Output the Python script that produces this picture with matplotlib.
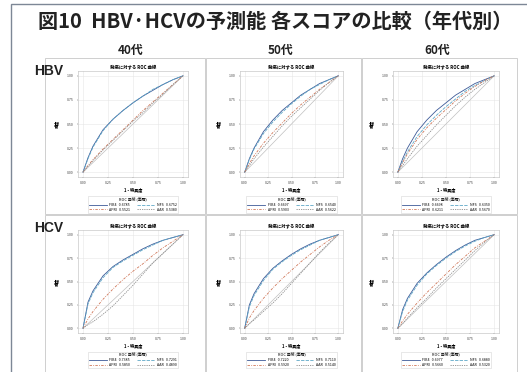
import numpy as np
import matplotlib.pyplot as plt
from matplotlib.patches import Rectangle
from matplotlib.lines import Line2D

plt.rcParams['font.family'] = ['Noto Sans CJK JP', 'DejaVu Sans']

W, H = 527, 372

# data
ages = ['40代', '50代', '60代']
viruses = ['HBV', 'HCV']
scores = ['FIB4', 'NFS', 'APRI', 'AAR']
fpr = [0, 0.05, 0.1, 0.2, 0.3, 0.4, 0.5, 0.6, 0.7, 0.8, 0.9, 1.0]

hbv40_fib4 = [0, 0.15, 0.27, 0.44, 0.55, 0.64, 0.72, 0.79, 0.85, 0.91, 0.96, 1]
hbv40_nfs = [0, 0.14, 0.26, 0.43, 0.55, 0.64, 0.72, 0.79, 0.86, 0.91, 0.96, 1]
hbv40_apri = [0, 0.07, 0.13, 0.24, 0.34, 0.44, 0.54, 0.64, 0.73, 0.82, 0.91, 1]
hbv40_aar = [0, 0.06, 0.12, 0.23, 0.33, 0.43, 0.53, 0.62, 0.72, 0.81, 0.91, 1]

hbv50_fib4 = [0, 0.14, 0.25, 0.42, 0.54, 0.64, 0.72, 0.80, 0.86, 0.92, 0.96, 1]
hbv50_nfs = [0, 0.13, 0.24, 0.40, 0.52, 0.62, 0.71, 0.79, 0.86, 0.91, 0.96, 1]
hbv50_apri = [0, 0.09, 0.17, 0.30, 0.41, 0.51, 0.61, 0.70, 0.78, 0.86, 0.93, 1]
hbv50_aar = [0, 0.07, 0.14, 0.26, 0.37, 0.48, 0.58, 0.67, 0.76, 0.85, 0.93, 1]

hbv60_fib4 = [0, 0.14, 0.25, 0.42, 0.54, 0.64, 0.72, 0.80, 0.86, 0.92, 0.96, 1]
hbv60_nfs = [0, 0.11, 0.21, 0.37, 0.49, 0.59, 0.68, 0.76, 0.84, 0.90, 0.95, 1]
hbv60_apri = [0, 0.10, 0.19, 0.34, 0.46, 0.56, 0.65, 0.74, 0.82, 0.89, 0.95, 1]
hbv60_aar = [0, 0.07, 0.14, 0.27, 0.38, 0.49, 0.59, 0.69, 0.78, 0.86, 0.93, 1]

hcv40_fib4 = [0, 0.28, 0.40, 0.56, 0.66, 0.73, 0.79, 0.85, 0.90, 0.94, 0.97, 1]
hcv40_nfs = [0, 0.26, 0.38, 0.54, 0.65, 0.72, 0.78, 0.84, 0.89, 0.94, 0.97, 1]
hcv40_apri = [0, 0.10, 0.18, 0.31, 0.42, 0.52, 0.61, 0.69, 0.78, 0.86, 0.93, 1]
hcv40_aar = [0, 0.04, 0.07, 0.15, 0.24, 0.35, 0.46, 0.58, 0.70, 0.80, 0.90, 1]

hcv50_fib4 = [0, 0.25, 0.37, 0.53, 0.64, 0.72, 0.79, 0.85, 0.90, 0.94, 0.97, 1]
hcv50_nfs = [0, 0.23, 0.35, 0.51, 0.63, 0.71, 0.78, 0.84, 0.89, 0.94, 0.97, 1]
hcv50_apri = [0, 0.11, 0.19, 0.32, 0.43, 0.53, 0.62, 0.71, 0.79, 0.87, 0.94, 1]
hcv50_aar = [0, 0.05, 0.09, 0.18, 0.27, 0.37, 0.48, 0.59, 0.70, 0.81, 0.91, 1]

hcv60_fib4 = [0, 0.20, 0.32, 0.48, 0.59, 0.68, 0.76, 0.83, 0.89, 0.94, 0.97, 1]
hcv60_nfs = [0, 0.18, 0.30, 0.46, 0.58, 0.67, 0.75, 0.82, 0.88, 0.93, 0.97, 1]
hcv60_apri = [0, 0.08, 0.15, 0.27, 0.38, 0.48, 0.58, 0.68, 0.77, 0.86, 0.93, 1]
hcv60_aar = [0, 0.05, 0.11, 0.22, 0.32, 0.43, 0.53, 0.63, 0.73, 0.83, 0.92, 1]

hbv_auc = [['0.6785', '0.6752', '0.5521', '0.5380'],
           ['0.6697', '0.6540', '0.5903', '0.5622'],
           ['0.6698', '0.6350', '0.6211', '0.5670']]
hcv_auc = [['0.7385', '0.7291', '0.5850', '0.4890'],
           ['0.7220', '0.7110', '0.5920', '0.5140'],
           ['0.6977', '0.6880', '0.5660', '0.5320']]

curves = {
    ('HBV', 0): [hbv40_fib4, hbv40_nfs, hbv40_apri, hbv40_aar],
    ('HBV', 1): [hbv50_fib4, hbv50_nfs, hbv50_apri, hbv50_aar],
    ('HBV', 2): [hbv60_fib4, hbv60_nfs, hbv60_apri, hbv60_aar],
    ('HCV', 0): [hcv40_fib4, hcv40_nfs, hcv40_apri, hcv40_aar],
    ('HCV', 1): [hcv50_fib4, hcv50_nfs, hcv50_apri, hcv50_aar],
    ('HCV', 2): [hcv60_fib4, hcv60_nfs, hcv60_apri, hcv60_aar],
}

colors = ['#3d5a98', '#5fa8c8', '#d0785a', '#8c8c8c']
styles = ['-', (0, (4, 1.5)), (0, (3, 1.5, 1, 1.5)), (0, (1.5, 1.2))]

fig = plt.figure(figsize=(W / 100, H / 100), dpi=100)


def box(x0, y0, x1, y1):
    # pixel box (top-left origin) -> figure fraction
    return [x0 / W, 1 - y1 / H, (x1 - x0) / W, (y1 - y0) / H]


# outer frame
fig.patches.append(Rectangle((11 / W, -0.1), 1.2, 1 - 4 / H + 0.1, transform=fig.transFigure,
                             fill=False, edgecolor='#7d8796', lw=1.0))

fig.text(275 / W, 1 - 21 / H, '図10  HBV·HCVの予測能 各スコアの比較（年代別）',
         ha='center', va='center', fontsize=14.5, fontweight='bold', color='#222222')

col_px = [(45, 205, 78, 188), (206, 361, 240, 343), (362, 517, 393, 499)]
row_px = [(58, 214, 71, 177), (215, 380, 230, 333)]
head_x = [131, 281, 437]

for j, a in enumerate(ages):
    fig.text(head_x[j] / W, 1 - 50 / H, a, ha='center', va='center',
             fontsize=8.5, fontweight='bold', color='#222222')

for i, v in enumerate(viruses):
    py0, py1, ay0, ay1 = row_px[i]
    fig.text(49 / W, 1 - (py0 + 13) / H, v, ha='center', va='center', fontsize=10,
             fontweight='bold', color='#222222', family=['Liberation Sans', 'DejaVu Sans'])
    for j in range(3):
        px0, px1, ax0, ax1 = col_px[j]
        fig.patches.append(Rectangle((px0 / W, 1 - py1 / H), (px1 - px0) / W, (py1 - py0) / H,
                                     transform=fig.transFigure, fill=False,
                                     edgecolor='#c8c8c8', lw=0.6))
        ax = fig.add_axes(box(ax0, ay0, ax1, ay1))
        ax.plot([0, 1], [0, 1], color='#c0c0c0', lw=0.5)
        for k, s in enumerate(scores):
            ax.plot(fpr, curves[(v, j)][k], color=colors[k], ls=styles[k], lw=0.6)
        ax.set_xlim(-0.05, 1.05)
        ax.set_ylim(-0.05, 1.05)
        ticks = [0, 0.25, 0.5, 0.75, 1.0]
        ax.set_xticks(ticks)
        ax.set_yticks(ticks)
        ax.set_xticklabels(['0.00', '0.25', '0.50', '0.75', '1.00'])
        ax.set_yticklabels(['0.00', '0.25', '0.50', '0.75', '1.00'])
        ax.tick_params(labelsize=2.6, length=1, width=0.3, pad=2, colors='#444444')
        ax.grid(True, color='#e6e6e6', lw=0.4)
        for sp in ax.spines.values():
            sp.set_color('#bbbbbb')
            sp.set_linewidth(0.4)
        ax.set_title('発癌に対する ROC 曲線', fontsize=3.2, fontweight='bold', pad=2)
        ax.set_xlabel('1 - 特異度', fontsize=3, fontweight='bold', labelpad=1.5)
        ax.set_ylabel('感度', fontsize=3, fontweight='bold', labelpad=6)
        aucs = hbv_auc[j] if v == 'HBV' else hcv_auc[j]
        handles = [Line2D([], [], color=colors[k], ls=styles[k], lw=0.6) for k in range(4)]
        labels = [scores[k] + '   ' + aucs[k] for k in range(4)]
        order = [0, 2, 1, 3]
        leg = ax.legend([handles[k] for k in order], [labels[k] for k in order],
                        loc='upper center', bbox_to_anchor=(0.5, -0.165), ncol=2,
                        fontsize=2.6, title='ROC 曲線 (面積)', title_fontsize=2.8,
                        frameon=True, fancybox=False, edgecolor='#cccccc',
                        handlelength=5, columnspacing=2, borderpad=0.3, labelspacing=0.25,
                        handletextpad=0.6)
        leg.get_frame().set_linewidth(0.4)

fig.savefig('out.png', dpi=100)
